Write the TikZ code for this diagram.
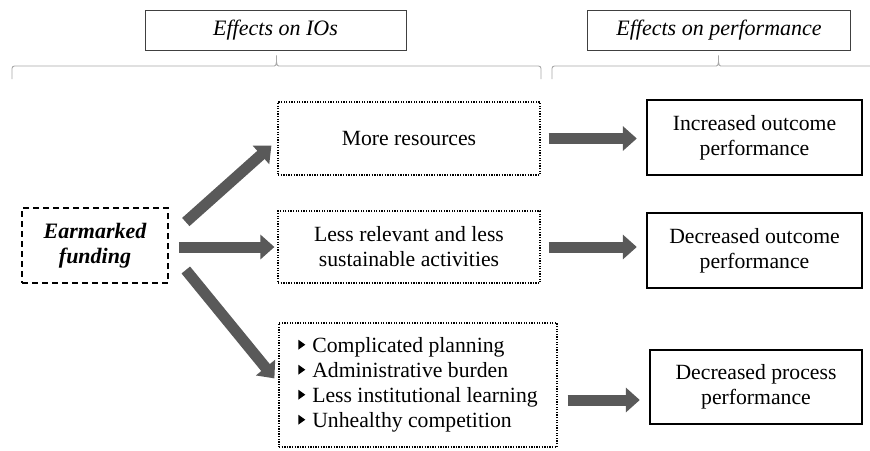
\documentclass[tikz,border=0pt]{standalone}
\usepackage{fontspec}
\setmainfont{Liberation Serif}
\usetikzlibrary{arrows.meta,calc}
\definecolor{arrowgray}{HTML}{595959}
\definecolor{bracegray}{HTML}{A8A8A8}
\newcommand{\bullettri}{\tikz[baseline=-3pt]\fill (0,0)--(0,10pt)--(7pt,5pt)--cycle;\hspace{7pt}}
\begin{document}
\begin{tikzpicture}[x=1pt,y=-1pt,
  txt/.style={font=\fontsize{21.7}{25}\selectfont, align=center, inner sep=0pt},
  headbox/.style={draw=black!75, line width=0.8pt, minimum height=40pt,
    font=\fontsize{22}{24}\selectfont\itshape, inner sep=0pt},
  sourcebox/.style={txt, draw, dashed, line width=1.6pt, dash pattern=on 6pt off 4pt,
    font=\fontsize{22}{25}\selectfont\bfseries\itshape},
  effectbox/.style={txt, draw, line width=1.2pt, dash pattern=on 1.3pt off 1.3pt},
  resultbox/.style={txt, draw, line width=2.4pt},
  blockarrow/.style={draw=arrowgray, line width=11pt, -{Triangle[width=24pt,length=14pt]}},
  bracestyle/.style={draw=bracegray, line width=0.9pt, rounded corners=2.5pt}
]
\clip (0,0) rectangle (870,450);
\fill[white] (0,0) rectangle (870,450);

% column headings
\node[headbox, minimum width=261pt] (hio) at (275.5,30) {Effects on IOs};
\node[headbox, minimum width=263pt] (hperf) at (719,30) {Effects on performance};

% braces under the headings
\draw[bracestyle] (12,79) |- (272,66) to[out=0,in=-90] (276.5,54) to[out=-90,in=180] (281,66) -| (541,79);
\draw[bracestyle] (552,79) |- (714,66) to[out=0,in=-90] (718.5,54) to[out=-90,in=180] (723,66) -| (885,79);

% source
\node[sourcebox, minimum width=146pt, minimum height=75pt] (ef) at (95,245.5) {Earmarked\\funding};

% effects on IOs
\node[effectbox, minimum width=262pt, minimum height=73pt] (mr) at (409,138.5) {More resources};
\node[effectbox, minimum width=262pt, minimum height=72pt] (lr) at (409,247) {Less relevant and less\\sustainable activities};
\node[effectbox, minimum width=278pt, minimum height=124pt, align=left] (bl) at (418,385)
  {\bullettri Complicated planning\\
   \bullettri Administrative burden\\
   \bullettri Less institutional learning\\
   \bullettri Unhealthy competition};

% effects on performance
\node[resultbox, minimum width=215pt, minimum height=75pt] (io) at (754.5,137.5) {Increased outcome\\performance};
\node[resultbox, minimum width=215pt, minimum height=75pt] (do) at (754.5,250.5) {Decreased outcome\\performance};
\node[resultbox, minimum width=212pt, minimum height=74pt] (dp) at (756,387) {Decreased process\\performance};

% arrows
\draw[blockarrow] ($(ef.east)+(17,-23.5)$) -- ($(mr.south west)+(-6,-30)$);
\draw[blockarrow] ($(ef.east)+(10,1.5)$) -- ($(lr.west)+(-3,0)$);
\draw[blockarrow] ($(ef.east)+(17,24.5)$) -- ($(bl.north west)+(-4,56)$);
\draw[blockarrow] ($(mr.east)+(8,0)$) -- ($(mr.east -| io.west)+(-9,0)$);
\draw[blockarrow] ($(lr.east)+(8,0)$) -- ($(lr.east -| do.west)+(-9,0)$);
\draw[blockarrow] ($(bl.east)+(10,15)$) -- ($(bl.east -| dp.west)+(-9,15)$);
\end{tikzpicture}
\end{document}
